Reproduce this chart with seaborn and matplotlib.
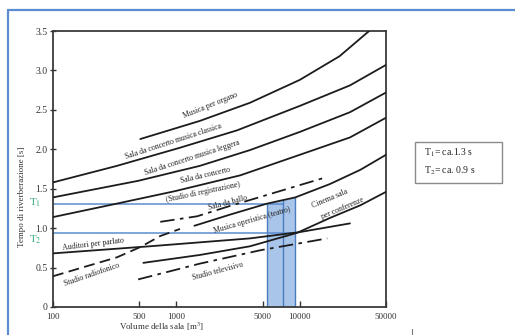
import numpy as np
import matplotlib
matplotlib.use("Agg")
import matplotlib.pyplot as plt
import seaborn as sns
from matplotlib.lines import Line2D
from matplotlib.patches import Rectangle
import matplotlib.transforms as mtransforms

# volume della sala [m3] e tempo di riverberazione [s]
organo_v = [510, 1550, 3950, 10000, 21000, 36500]
organo_t = [2.13, 2.36, 2.59, 2.88, 3.18, 3.50]

classica_v = [100, 330, 1070, 3100, 10000, 25500, 50000]
classica_t = [1.58, 1.79, 2.02, 2.24, 2.55, 2.81, 3.07]

leggera_v = [100, 490, 1550, 3950, 10000, 25500, 50000]
leggera_t = [1.39, 1.60, 1.79, 1.99, 2.22, 2.47, 2.72]

concerto_v = [100, 350, 980, 3300, 10000, 25500, 50000]
concerto_t = [1.14, 1.32, 1.47, 1.67, 1.93, 2.15, 2.40]

ballo_v = [740, 1470, 2700, 5400, 16700]
ballo_t = [1.08, 1.15, 1.28, 1.42, 1.65]

opera_v = [1400, 2700, 5400, 9200, 17600, 31000, 50000]
opera_t = [1.03, 1.17, 1.31, 1.39, 1.56, 1.74, 1.93]

cinema_v = [540, 1550, 3950, 9500, 17600, 31000, 50000]
cinema_t = [0.56, 0.66, 0.77, 0.94, 1.13, 1.29, 1.46]

parlato_v = [100, 610, 3950, 10000, 25500]
parlato_t = [0.68, 0.77, 0.87, 0.95, 1.06]

radio_v = [100, 200, 330, 510, 740, 1070]
radio_t = [0.39, 0.53, 0.63, 0.76, 0.90, 0.99]

tv_v = [490, 1550, 4800, 16700]
tv_t = [0.35, 0.55, 0.72, 0.87]

# sala in esame
sala_v = [5400, 7300, 9200]
T1 = 1.31
T2 = 0.94

xticks = [100, 500, 1000, 5000, 10000, 50000]
yticks = [0, 0.5, 1.0, 1.5, 2.0, 2.5, 3.0, 3.5]
ytick_labels = ["0", "0.5", "1.0", "1.5", "2.0", "2.5", "3.0", "3.5"]

# etichette delle curve: testo, V, T, rotazione
etichette = [
    ("Musica per organo", 1880, 2.56, 22),
    ("Sala da concerto musica classica", 940, 2.10, 18),
    ("Sala da concerto musica leggera", 1340, 1.89, 18),
    ("Sala da concerto", 1710, 1.67, 13),
    ("(Studio di registrazione)", 1650, 1.45, 12),
    ("Sala da ballo", 2630, 1.32, 15),
    ("Musica operistica (teatro)", 4100, 1.10, 16),
    ("Cinema sala", 17600, 1.37, 23),
    ("per conferenze", 22000, 1.25, 23),
    ("Auditori per parlato", 211, 0.80, 7),
    ("Studio radiofonico", 205, 0.41, 19),
    ("Studio televisivo", 2180, 0.45, 15),
]

sns.set_style("ticks")
plt.rcParams["font.family"] = ["Liberation Serif", "DejaVu Serif"]
plt.rcParams["mathtext.fontset"] = "stix"

W, H = 515, 335
fig = plt.figure(figsize=(W / 100, H / 100), dpi=100)
ax = fig.add_axes([53 / W, 1 - 307 / H, 333 / W, 276 / H])

blu = "#5b8bd0"
nero = "#1c1c1c"

# zona evidenziata sotto la curva del teatro
top = np.interp(np.log10(sala_v), np.log10(opera_v), opera_t)
ax.fill_between(sala_v, 0, top, color="#a9c5ea", lw=0, zorder=1)
ax.vlines(sala_v, 0, top, color="#4a7cc0", lw=1.0, zorder=2)
ax.hlines(T1, 100, sala_v[1], color=blu, lw=1.1, zorder=2)
ax.hlines(T2, 100, sala_v[2], color=blu, lw=1.1, zorder=2)

solide = [(organo_v, organo_t), (classica_v, classica_t), (leggera_v, leggera_t),
          (concerto_v, concerto_t), (opera_v, opera_t), (cinema_v, cinema_t),
          (parlato_v, parlato_t)]
for v, t in solide:
    sns.lineplot(x=v, y=t, ax=ax, color=nero, lw=1.3, zorder=3)

sns.lineplot(x=radio_v, y=radio_t, ax=ax, color=nero, lw=1.3, linestyle=(0, (6, 3)), zorder=3)
sns.lineplot(x=ballo_v, y=ballo_t, ax=ax, color=nero, lw=1.3, linestyle=(0, (8, 3, 2, 3)), zorder=3)
sns.lineplot(x=tv_v, y=tv_t, ax=ax, color=nero, lw=1.3, linestyle=(0, (8, 3, 2, 3)), zorder=3)

for s, v, t, r in etichette:
    ax.text(v, t, s, rotation=r, rotation_mode="anchor", ha="center", va="center",
            fontsize=5.6, color="#222222", zorder=4)

ax.set_xscale("log")
ax.set_xlim(100, 50000)
ax.set_ylim(0, 3.5)
ax.set_xticks(xticks)
ax.set_xticklabels([str(x) for x in xticks], fontsize=6.5)
ax.minorticks_off()
ax.set_yticks(yticks)
ax.set_yticklabels(ytick_labels, fontsize=7)
ax.tick_params(axis="x", direction="in", length=4, width=1, pad=4, colors="#333333")
ax.tick_params(axis="y", direction="inout", length=4, width=1, pad=2, colors="#333333")
for sp in ax.spines.values():
    sp.set_color("#3a3a3a")
    sp.set_linewidth(1.3)

# T1 / T2 in verde accanto all'asse
tr = mtransforms.blended_transform_factory(ax.transAxes, ax.transData)
ax.text(-0.035, 1.32, "T$_1$", transform=tr, ha="right", va="center", fontsize=8, color="#35a877")
ax.text(-0.035, 0.85, "T$_2$", transform=tr, ha="right", va="center", fontsize=8, color="#35a877")

fig.text(22 / W, 1 - 197 / H, "Tempo di riverberazione [s]", rotation=90,
         ha="center", va="center", fontsize=6.5, color="#333333")
fig.text(162 / W, 1 - 327 / H, "Volume della sala [m$^3$]", ha="center", va="center",
         fontsize=6.5, color="#333333")

# riquadro a destra
fig.add_artist(Rectangle((415 / W, 1 - 183 / H), 87 / W, 41 / H, transform=fig.transFigure,
                         fill=False, ec="#8a8a8a", lw=1.0))
fig.text(424 / W, 1 - 153 / H, "T$_1$= ca.1.3 s", ha="left", va="center", fontsize=7, color="#222222")
fig.text(424 / W, 1 - 171 / H, "T$_2$= ca. 0.9 s", ha="left", va="center", fontsize=7, color="#222222")

# cornice blu
fig.add_artist(Line2D([8 / W, 8 / W], [0, 1 - 10 / H], transform=fig.transFigure, color=blu, lw=1.6))
fig.add_artist(Line2D([8 / W, 1], [1 - 10 / H, 1 - 10 / H], transform=fig.transFigure, color=blu, lw=1.6))
fig.add_artist(Line2D([412 / W, 412 / W], [0, 6 / H], transform=fig.transFigure, color="#777777", lw=0.8))

fig.savefig("out.png", dpi=100)
